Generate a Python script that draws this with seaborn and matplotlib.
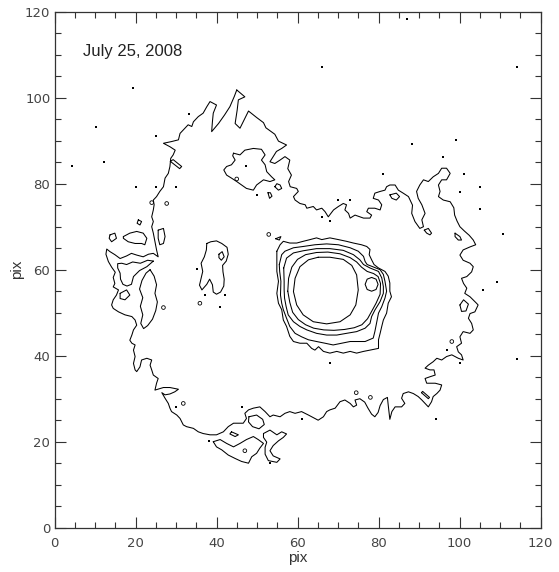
import matplotlib
matplotlib.use("Agg")
import matplotlib.pyplot as plt
from matplotlib.ticker import MultipleLocator
import pandas as pd
import seaborn as sns

DATE_LABEL = "July 25, 2008"
AXIS_LABEL = "pix"
X_TICKS = [0, 20, 40, 60, 80, 100, 120]
Y_TICKS = [0, 20, 40, 60, 80, 100, 120]

# Faint outer shell: one closed iso-intensity outline, (x, y) in pixels
ring = [
    (45.0, 101.8), (44.4, 100.3), (43.3, 97.9), (42.0, 96.0), (40.5, 94.0), (38.8, 92.1),
    (39.0, 94.5), (39.2, 96.4), (40.0, 98.3), (38.4, 99.1), (37.6, 97.9), (36.7, 96.4),
    (35.5, 95.6), (34.3, 94.4), (33.9, 93.3), (33.0, 93.7), (32.2, 92.9), (31.0, 91.7),
    (30.6, 90.2), (28.9, 89.8), (26.9, 89.4), (28.5, 88.6), (29.8, 87.8), (29.3, 86.7),
    (28.7, 85.9), (28.5, 84.0), (28.1, 82.4), (27.3, 81.3), (26.9, 79.3), (26.0, 78.2),
    (25.2, 77.0), (24.4, 76.2), (24.6, 75.1), (24.4, 73.9), (24.0, 72.3), (24.4, 71.2),
    (24.0, 70.0), (24.4, 68.5), (24.8, 66.5), (25.2, 64.6), (25.6, 63.0),
    (24.4, 63.8), (23.2, 63.6), (21.9, 63.0), (20.3, 63.4), (19.0, 63.8), (17.8, 63.2),
    (16.2, 62.6), (14.9, 63.5), (13.7, 64.2), (12.9, 64.8), (12.7, 63.6), (13.3, 61.9),
    (14.1, 60.6), (15.0, 59.4), (14.5, 58.2), (14.9, 56.8), (14.5, 56.0), (15.8, 55.3),
    (15.3, 54.1), (14.5, 53.0), (14.1, 51.8), (14.5, 51.0), (15.8, 50.2), (17.4, 49.5),
    (19.1, 49.1), (19.9, 48.3), (20.3, 47.1), (19.5, 46.0), (19.1, 44.8), (18.6, 43.6),
    (19.1, 42.9), (19.9, 42.5), (19.5, 41.3), (19.9, 39.8), (19.5, 38.2), (19.9, 36.7),
    (20.3, 36.3), (21.1, 37.4), (21.5, 39.0), (22.8, 39.4), (24.0, 39.0), (23.6, 37.8),
    (24.0, 36.7), (24.4, 35.5), (25.6, 34.7), (25.2, 33.6), (24.8, 32.0), (26.9, 32.6),
    (28.5, 32.6), (30.6, 32.2), (29.7, 31.6), (28.5, 31.1), (27.3, 30.9), (26.5, 31.4),
    (27.3, 30.1), (28.1, 28.9), (28.5, 27.8), (28.9, 27.0), (30.2, 26.2), (31.0, 25.4),
    (31.8, 23.9), (32.6, 23.5), (34.3, 23.1), (35.5, 22.3), (36.7, 21.9), (38.4, 21.6),
    (40.0, 21.6), (41.7, 22.3), (42.9, 23.5), (44.2, 24.3), (45.4, 24.3), (46.6, 24.3),
    (47.4, 25.4), (47.0, 26.6), (47.9, 27.4), (49.1, 27.8), (50.7, 28.1), (52.0, 27.0),
    (53.2, 25.8), (54.0, 26.2), (55.7, 25.8), (56.9, 26.6), (58.1, 27.0), (59.4, 26.6),
    (61.0, 27.0), (62.7, 26.2), (64.3, 25.4), (65.1, 25.0), (66.4, 25.8), (67.2, 27.0),
    (68.0, 27.4), (69.3, 27.8), (70.5, 29.3), (71.7, 29.7), (73.0, 28.9), (73.8, 28.1),
    (74.6, 28.5), (74.2, 29.7), (75.4, 30.0), (76.6, 29.2), (77.4, 27.8), (78.3, 26.4),
    (79.1, 25.8), (79.9, 26.8), (80.4, 28.4), (81.2, 29.8), (82.2, 30.3), (82.4, 28.5),
    (82.8, 25.2), (83.3, 27.0), (84.1, 28.1), (85.7, 28.1), (86.5, 28.9), (85.7, 30.1),
    (86.1, 31.2), (87.4, 31.6), (88.6, 31.2), (89.8, 30.5), (90.7, 29.7), (91.5, 28.9),
    (92.3, 28.1), (93.1, 29.3), (93.5, 30.5), (94.4, 31.2), (95.2, 32.0), (95.6, 33.2),
    (94.0, 33.6), (91.9, 33.6), (91.5, 34.7), (92.7, 35.1), (94.0, 35.5), (93.7, 36.7),
    (92.7, 36.7), (91.5, 37.1), (92.3, 37.8), (93.5, 38.6), (94.4, 39.4), (95.6, 39.0),
    (96.8, 39.8), (98.1, 40.2), (99.7, 39.4), (100.9, 39.0), (100.5, 40.2), (99.7, 40.9),
    (99.3, 42.1), (100.5, 42.9), (100.1, 44.4), (100.9, 45.6), (102.6, 45.2), (103.4, 46.0),
    (103.0, 47.5), (102.2, 48.7), (102.6, 49.8), (103.8, 50.2), (104.6, 51.8), (104.2, 52.2),
    (102.6, 53.7), (101.3, 54.5), (101.8, 55.7), (101.0, 56.8), (100.5, 58.0), (101.8, 58.4),
    (103.0, 59.5), (103.4, 60.7), (102.6, 61.5), (100.9, 62.2), (100.1, 63.4), (100.9, 64.6),
    (102.6, 65.3), (104.0, 65.8), (103.4, 66.9), (102.4, 68.0), (101.2, 69.0), (100.1, 70.0),
    (99.4, 71.3), (98.8, 72.7), (98.6, 74.4), (97.7, 75.8), (96.0, 76.2), (94.8, 77.0),
    (95.2, 78.2), (94.8, 79.7), (95.6, 80.9), (96.8, 80.9), (97.7, 82.4), (96.8, 83.6),
    (95.6, 83.6), (94.8, 82.4), (93.5, 81.6), (92.3, 80.5), (91.1, 80.9), (90.2, 79.7),
    (89.4, 78.2), (89.8, 76.6), (90.7, 75.1), (91.5, 73.1), (90.7, 71.6), (91.1, 70.0),
    (90.2, 69.6), (89.0, 71.2), (88.2, 73.1), (88.4, 75.0), (87.4, 77.0), (86.1, 77.8),
    (84.9, 78.5), (84.1, 79.7), (82.8, 79.7), (82.0, 79.3), (81.6, 78.5), (80.4, 78.2),
    (79.1, 77.8), (78.7, 76.6), (80.0, 76.2), (80.8, 75.1), (80.4, 73.9), (79.1, 74.3),
    (77.5, 74.3), (77.1, 73.5), (78.3, 72.7), (77.9, 72.0), (76.3, 72.0), (75.4, 72.3),
    (74.2, 72.7), (73.0, 72.0), (72.6, 73.1), (71.7, 73.9), (72.1, 75.1), (71.3, 75.4),
    (70.1, 74.7), (68.9, 73.9), (67.6, 72.3), (66.8, 73.5), (66.0, 74.3), (64.7, 73.9),
    (63.9, 74.7), (62.3, 74.3), (61.9, 75.1), (60.6, 75.4), (59.4, 76.2), (59.0, 77.0),
    (60.2, 78.2), (59.8, 78.9), (58.2, 79.3), (57.8, 80.5), (58.5, 82.0), (57.6, 83.5),
    (58.1, 85.5), (56.9, 86.3), (55.7, 85.5), (54.4, 84.7), (53.2, 85.1), (54.0, 86.3),
    (54.8, 87.5), (56.1, 88.2), (57.3, 89.0), (55.3, 89.9), (54.4, 91.5), (52.2, 93.0),
    (51.6, 94.2), (49.9, 95.4), (47.9, 96.9), (45.8, 92.9), (44.6, 94.0), (45.1, 97.1),
    (45.4, 99.5), (47.0, 100.2),
]

# Islands and holes of the same faint level
patch_north = [
    (44.2, 87.1), (45.8, 86.7), (47.0, 87.8), (49.1, 88.2), (51.1, 88.0), (52.0, 86.7),
    (51.1, 85.5), (52.0, 84.4), (52.4, 82.8), (53.6, 81.6), (54.4, 80.9), (53.2, 80.5),
    (51.6, 80.9), (49.9, 79.7), (49.1, 78.5), (47.4, 78.9), (46.2, 79.7), (45.0, 80.5),
    (43.7, 81.3), (42.5, 82.0), (41.8, 83.2), (42.5, 84.0), (43.7, 84.4), (44.6, 85.5),
    (44.0, 86.5),
]
blob_west = [
    (37.6, 66.1), (38.6, 66.5), (40.0, 66.7), (41.3, 66.1), (42.6, 65.2), (42.9, 63.6),
    (42.4, 62.0), (41.5, 61.0), (41.6, 59.5), (41.9, 57.8), (41.8, 56.2), (41.0, 54.8),
    (40.0, 54.3), (39.2, 54.8), (39.0, 56.5), (38.3, 57.8), (37.6, 56.6), (36.4, 55.3),
    (35.8, 56.4), (36.2, 58.0), (36.6, 59.6), (36.2, 61.5), (37.0, 63.0), (37.5, 64.6),
]
blob_west_hole = [(40.6, 63.6), (41.4, 64.2), (41.9, 63.0), (41.2, 62.2), (40.6, 62.8)]
isle_a = [(17.0, 67.7), (18.6, 68.5), (20.3, 68.9), (21.9, 68.5), (22.8, 67.3), (22.3, 65.8),
          (21.5, 66.1), (19.9, 66.1), (18.2, 66.5), (17.0, 67.3)]
isle_b = [(13.7, 68.1), (14.9, 68.5), (15.3, 67.3), (14.1, 66.5), (13.5, 67.3)]
isle_c = [(25.6, 69.2), (26.9, 69.6), (27.3, 67.7), (26.9, 66.1), (26.0, 65.8), (25.6, 67.3)]
isle_d = [(20.7, 71.6), (21.5, 71.2), (21.1, 70.4), (20.4, 70.8)]
isle_e = [(28.6, 85.2), (29.3, 85.6), (31.4, 84.0), (30.9, 83.5)]
hole_a = [(24.4, 62.0), (22.8, 60.7), (21.0, 59.8), (19.5, 58.4), (19.0, 56.6), (17.9, 56.2),
          (16.9, 56.6), (16.3, 57.8), (16.2, 59.2), (15.6, 60.4), (15.6, 61.4), (16.6, 61.5),
          (17.8, 61.2), (19.3, 61.8), (21.2, 61.5), (23.0, 62.2)]
hole_b = [(23.6, 60.0), (24.6, 58.5), (25.2, 56.5), (24.8, 54.5), (25.4, 52.5), (25.0, 50.5),
          (24.2, 48.5), (23.0, 47.0), (22.0, 46.3), (21.3, 47.5), (21.8, 49.5), (21.2, 51.5),
          (21.8, 53.5), (21.0, 55.5), (21.6, 57.5), (22.6, 59.2)]
hole_c = [(16.2, 54.5), (17.8, 55.3), (18.6, 54.1), (17.4, 53.0), (16.2, 53.3)]
isle_s1 = [(39.2, 20.0), (40.9, 20.5), (42.5, 19.6), (44.2, 18.8), (45.8, 19.6), (47.4, 20.5),
           (49.1, 21.2), (50.3, 20.5), (51.6, 19.6), (50.7, 18.5), (49.9, 17.3), (48.7, 16.5),
           (47.9, 15.0), (46.2, 15.4), (44.6, 16.1), (42.9, 16.9), (41.3, 18.1), (40.0, 18.8)]
isle_s2 = [(51.6, 21.9), (53.2, 22.7), (54.9, 21.6), (56.1, 22.3), (57.3, 21.8), (56.5, 21.0),
           (55.3, 20.2), (54.0, 19.1), (53.2, 17.9), (54.0, 16.7), (55.7, 16.0), (54.9, 15.2),
           (52.8, 15.6), (52.0, 17.1), (52.0, 18.7), (52.4, 19.9), (51.6, 21.0)]
isle_s3 = [(48.0, 25.8), (49.9, 26.2), (51.4, 25.2), (51.8, 24.0), (50.5, 23.0), (48.9, 23.5),
           (47.9, 24.6)]
isle_s4 = [(43.7, 22.3), (45.4, 21.6), (44.6, 21.2), (43.3, 21.8)]
isle_r1 = [(100.1, 51.8), (101.0, 53.0), (102.2, 52.0), (101.6, 50.4), (100.5, 50.3)]
isle_r2 = [(91.3, 69.2), (92.3, 69.6), (93.1, 68.5), (92.7, 68.1), (91.9, 68.5)]
isle_r3 = [(98.9, 68.5), (100.1, 67.7), (100.5, 66.9), (99.7, 66.9), (98.9, 67.7)]
isle_r4 = [(82.8, 77.4), (84.4, 77.8), (85.2, 77.0), (84.4, 76.2), (83.3, 76.6)]
isle_r5 = [(90.6, 31.4), (92.3, 30.0), (92.6, 30.3), (90.9, 31.7)]
isle_t1 = [(54.4, 79.3), (55.3, 78.5), (56.1, 78.9), (55.7, 79.7), (54.9, 80.0)]
isle_t2 = [(52.7, 77.9), (53.1, 76.6), (53.7, 77.1), (53.3, 77.9)]
isle_t3 = [(54.6, 67.2), (55.9, 67.7), (55.5, 66.9)]

# Central star: nested levels from the outermost inwards, plus the companion knot
core_5 = [
    (54.9, 64.3), (55.7, 65.8), (56.5, 66.6), (58.1, 66.2), (59.8, 66.2), (61.4, 66.6),
    (63.1, 67.0), (64.7, 67.4), (66.0, 67.0), (68.0, 67.4), (70.1, 67.0), (72.1, 66.6),
    (73.8, 66.2), (75.8, 65.8), (77.1, 65.4), (77.9, 64.7), (77.7, 63.5), (78.3, 62.3),
    (78.9, 61.2), (80.0, 60.4), (81.6, 59.6), (82.4, 58.5), (82.8, 56.9), (82.8, 55.0),
    (83.2, 53.7), (82.4, 52.2), (82.0, 49.9), (81.2, 48.3), (80.8, 46.8), (80.4, 45.2),
    (80.0, 43.7), (80.0, 41.7), (77.9, 41.3), (76.3, 41.0), (74.6, 40.6), (73.0, 41.0),
    (71.3, 40.6), (69.7, 41.0), (68.0, 40.6), (66.4, 41.0), (65.2, 42.1), (64.3, 41.3),
    (63.5, 41.7), (62.3, 42.9), (60.6, 42.9), (59.0, 43.3), (58.1, 44.5), (57.3, 46.8),
    (56.5, 48.3), (56.1, 50.7), (55.3, 52.2), (54.9, 54.5), (55.3, 57.3), (54.9, 59.6),
    (54.9, 61.9),
]
core_4 = [
    (55.5, 61.2), (56.1, 63.5), (56.9, 64.3), (59.0, 65.1), (61.4, 65.4), (64.3, 65.8),
    (67.2, 66.0), (70.1, 65.8), (73.0, 65.1), (75.0, 64.3), (76.3, 63.1), (76.7, 61.9),
    (77.2, 61.2), (78.3, 60.8), (80.4, 60.0), (81.2, 58.9), (81.6, 57.3), (82.0, 55.0),
    (81.6, 53.4), (80.8, 51.4), (80.0, 49.9), (79.5, 47.5), (79.1, 45.6), (78.7, 44.1),
    (76.7, 43.3), (74.6, 43.3), (73.0, 43.3), (70.9, 42.9), (68.8, 42.5), (66.8, 42.9),
    (64.7, 43.3), (62.7, 43.7), (61.0, 44.4), (59.4, 45.2), (58.1, 46.8), (57.3, 48.7),
    (56.5, 50.7), (56.1, 52.2), (55.8, 54.1), (55.9, 57.3), (55.6, 59.6),
]
core_3 = [
    (56.6, 60.4), (57.3, 62.7), (59.0, 63.9), (61.4, 64.4), (64.7, 64.9), (68.0, 64.9),
    (71.3, 64.5), (73.8, 63.5), (75.4, 62.3), (76.3, 61.2), (77.9, 60.4), (80.0, 59.6),
    (80.8, 58.1), (81.2, 56.1), (81.2, 54.5), (80.4, 52.6), (79.1, 50.6), (78.3, 49.1),
    (77.9, 47.5), (76.7, 46.4), (74.6, 45.6), (72.1, 45.2), (69.7, 44.8), (67.2, 44.8),
    (64.7, 45.2), (62.3, 46.0), (60.6, 46.8), (59.0, 47.9), (57.7, 49.5), (57.2, 51.4),
    (56.8, 53.4), (56.7, 55.3), (56.7, 57.3),
]
core_2 = [
    (57.6, 55.0), (57.8, 58.0), (58.6, 60.6), (60.0, 62.4), (62.0, 63.5), (64.7, 64.0),
    (67.5, 64.1), (70.5, 63.7), (73.0, 62.8), (74.6, 61.8), (75.8, 60.6), (77.2, 59.6),
    (78.8, 59.1), (79.9, 58.4), (80.5, 56.8), (80.4, 54.3), (79.4, 52.2), (78.3, 50.3),
    (77.3, 48.6), (75.9, 47.2), (74.0, 46.5), (71.6, 46.1), (69.0, 45.9), (66.5, 46.0),
    (64.0, 46.4), (62.0, 47.2), (60.2, 48.4), (58.8, 50.1), (58.1, 52.4),
]
core_1 = [
    (65.1, 62.9), (68.0, 62.9), (71.3, 62.4), (73.4, 61.0), (74.6, 58.8), (75.0, 55.3),
    (74.4, 51.8), (73.0, 49.5), (70.5, 47.9), (67.2, 47.4), (63.9, 47.9), (61.4, 49.5),
    (59.8, 51.8), (59.0, 54.9), (59.4, 58.0), (60.6, 60.7), (62.7, 62.3),
]
companion = [(78.3, 58.2), (79.4, 57.8), (79.9, 56.6), (79.4, 55.4), (78.3, 55.0),
             (77.2, 55.4), (76.7, 56.6), (77.2, 57.8)]

# Tiny closed knots (too small to trace) and isolated single-pixel hits
knots_x = [52.9, 26.9, 35.9, 31.8, 47.0, 74.5, 78.0, 98.1, 24.0, 27.7, 45.0]
knots_y = [68.2, 51.2, 52.2, 28.9, 17.9, 31.4, 30.3, 43.3, 75.6, 75.4, 81.1]
specks_x = [19.3, 10.2, 4.2, 12.2, 25.1, 33.2, 20.1, 25.1, 30.0, 47.2, 50.1, 35.1,
            66.0, 87.0, 114.1, 99.1, 88.2, 96.0, 81.2, 101.1, 105.1, 100.1, 105.1,
            70.1, 73.0, 66.0, 68.0, 110.8, 109.2, 40.9, 37.2, 42.1, 30.0, 38.2,
            46.2, 53.2, 68.0, 61.0, 94.1, 100.1, 114.1, 105.9, 96.8]
specks_y = [102.2, 93.2, 84.2, 85.0, 91.0, 96.1, 79.2, 79.2, 79.2, 84.2, 77.3, 60.2,
            107.2, 118.3, 107.2, 90.2, 89.2, 86.3, 82.2, 82.2, 79.2, 78.1, 74.1,
            76.2, 76.2, 72.2, 71.4, 68.2, 57.2, 51.3, 54.1, 54.1, 28.1, 20.2,
            28.1, 15.1, 38.2, 25.2, 25.2, 38.2, 39.2, 55.3, 41.3]

outlines = {
    "ring": ring, "patch_north": patch_north, "blob_west": blob_west,
    "blob_west_hole": blob_west_hole, "isle_a": isle_a, "isle_b": isle_b,
    "isle_c": isle_c, "isle_d": isle_d, "isle_e": isle_e, "hole_a": hole_a,
    "hole_b": hole_b, "hole_c": hole_c, "isle_s1": isle_s1, "isle_s2": isle_s2,
    "isle_s3": isle_s3, "isle_s4": isle_s4, "isle_r1": isle_r1, "isle_r2": isle_r2,
    "isle_r3": isle_r3, "isle_r4": isle_r4, "isle_r5": isle_r5, "isle_t1": isle_t1,
    "isle_t2": isle_t2, "isle_t3": isle_t3, "core_5": core_5, "core_4": core_4,
    "core_3": core_3, "core_2": core_2, "core_1": core_1, "companion": companion,
}

rows = []
for name, pts in outlines.items():
    for step, (px, py) in enumerate(list(pts) + [pts[0]]):
        rows.append({"piece": name, "step": step, "x": px, "y": py})
lines = pd.DataFrame(rows)

sns.set_style("ticks")
plt.rcParams["font.family"] = ["DejaVu Sans"]

fig = plt.figure(figsize=(5.59, 5.72), dpi=100)
ax = fig.add_axes([54.5 / 559, 44.3 / 572, 486 / 559, 516 / 572])

sns.lineplot(data=lines, x="x", y="y", units="piece", estimator=None, sort=False,
             color="black", linewidth=0.75, ax=ax, legend=False)
sns.scatterplot(x=specks_x, y=specks_y, marker="s", s=2.2, color="black",
                linewidth=0, ax=ax, legend=False)
sns.scatterplot(x=knots_x, y=knots_y, marker="o", s=7, color="black",
                facecolor="none", edgecolor="black", linewidth=0.6, ax=ax, legend=False)

ax.set_xlim(0, 120)
ax.set_ylim(0, 120)
ax.set_xticks(X_TICKS)
ax.set_yticks(Y_TICKS)
ax.xaxis.set_minor_locator(MultipleLocator(5))
ax.yaxis.set_minor_locator(MultipleLocator(5))
ax.tick_params(which="both", direction="in", top=True, right=True,
               color="#333333", width=0.8)
ax.tick_params(which="major", length=7.9)
ax.tick_params(which="minor", length=4.0)
ax.tick_params(axis="x", which="major", pad=6.8, labelsize=9.5, labelcolor="#444444")
ax.tick_params(axis="y", which="major", pad=3.0, labelsize=9.5, labelcolor="#444444")
for spine in ax.spines.values():
    spine.set_color("#333333")
    spine.set_linewidth(0.9)

ax.set_xlabel(AXIS_LABEL, family="Liberation Sans", fontsize=11, color="#333333")
ax.set_ylabel(AXIS_LABEL, family="Liberation Sans", fontsize=11, color="#333333")
ax.xaxis.set_label_coords(0.5, -0.045)
ax.yaxis.set_label_coords(-0.062, 0.5)

ax.text(7.0, 109.8, DATE_LABEL, family="Liberation Sans", fontsize=12,
        color="#222222", ha="left", va="baseline")

fig.savefig("out.png", dpi=100)
